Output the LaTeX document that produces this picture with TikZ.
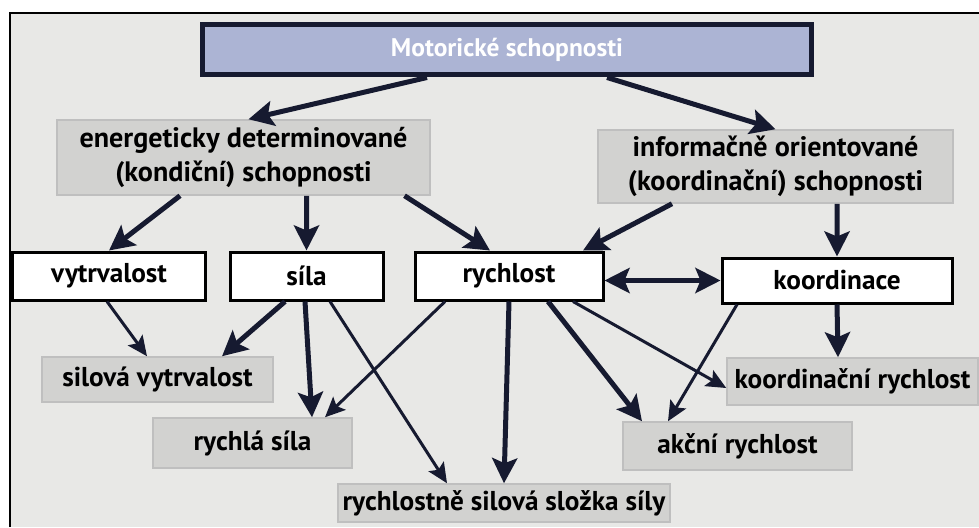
\documentclass[tikz,border=0pt]{standalone}
\usepackage{fontspec}
\setmainfont{PT Sans}
\usetikzlibrary{arrows.meta}

\definecolor{paper}{RGB}{232,232,230}
\definecolor{boxgrey}{RGB}{210,210,208}
\definecolor{topblue}{RGB}{172,180,212}
\definecolor{navy}{RGB}{22,26,48}

\tikzset{
	labelfont/.style={font=\bfseries\fontsize{15.5}{18}\selectfont},
	bigfont/.style={font=\bfseries\fontsize{16}{19.5}\selectfont},
	greybox/.style={labelfont, fill=boxgrey, draw=gray!50, line width=0.3mm, align=center, inner sep=2pt},
	whitebox/.style={labelfont, fill=white, draw=black, line width=0.6mm, minimum height=0.96cm},
	topbox/.style={font=\bfseries\fontsize{14.5}{17}\selectfont, text=white, fill=topblue, draw=navy, line width=1mm},
	bigarrow/.style={draw=navy, line width=1mm, -{Stealth[length=5mm,width=5mm,inset=1mm]}},
	smallarrow/.style={draw=navy, line width=0.6mm, -{Stealth[length=4mm,width=3.6mm,inset=0.8mm]}},
	bothway/.style={draw=navy, line width=1mm, {Stealth[length=5mm,width=5mm,inset=1mm]}-{Stealth[length=5mm,width=5mm,inset=1mm]}},
}

\begin{document}
\begin{tikzpicture}
	\useasboundingbox (0,0) rectangle (19.58,-10.54);
	\fill[white] (0,0) rectangle (19.58,-10.54);
	\fill[paper] (0.2,-0.26) rectangle (19.58,-10.54);
	\draw[black, line width=0.5mm] (0.2,-10.54) -- (0.2,-0.26) -- (19.58,-0.26);

	% top level
	\node[topbox, minimum width=12.18cm, minimum height=1cm] (motor) at (10.14, -1.0) {Motorické schopnosti};

	\node[greybox, bigfont, minimum width=7.46cm, minimum height=1.5cm] (energ) at (4.87, -3.15) {energeticky determinované\\(kondiční) schopnosti};
	\node[greybox, bigfont, minimum width=7.1cm, minimum height=1.46cm] (inform) at (15.51, -3.33) {informačně orientované\\(koordinační) schopnosti};

	% middle row
	\node[whitebox, minimum width=3.84cm] (vytrv) at (2.18, -5.52) {vytrvalost};
	\node[whitebox, minimum width=3.06cm] (sila) at (6.13, -5.52) {síla};
	\node[whitebox, minimum width=3.76cm] (rychl) at (10.18, -5.52) {rychlost};
	\node[whitebox, minimum width=4.6cm, minimum height=0.9cm] (koord) at (16.74, -5.61) {koordinace};

	% bottom boxes
	\node[greybox, minimum width=4.62cm, minimum height=0.9cm] (silvytr) at (3.15, -7.59) {silová vytrvalost};
	\node[greybox, minimum width=3.98cm, minimum height=1cm] (rychsila) at (5.05, -8.86) {rychlá síla};
	\node[greybox, minimum width=6.64cm, minimum height=0.76cm] (rychlsil) at (10.08, -10.06) {rychlostně silová složka síly};
	\node[greybox, minimum width=5.02cm, minimum height=0.94cm] (koordrych) at (17.05, -7.63) {koordinační rychlost};
	\node[greybox, minimum width=4.58cm, minimum height=0.96cm] (akcni) at (14.75, -8.92) {akční rychlost};

	% Draw the arrows between the boxes
	\draw[bigarrow] ([xshift=-1.6cm]motor.south) -- ([xshift=0.1cm]energ.north);
	\draw[bigarrow] ([xshift=2cm]motor.south) -- (inform.north);
	\draw[bigarrow] ([xshift=-1.27cm]energ.south) -- (vytrv.north);
	\draw[bigarrow] ([xshift=1.26cm]energ.south) -- (sila.north);
	\draw[bigarrow] ([xshift=3.22cm]energ.south) -- ([xshift=-0.38cm]rychl.north);
	\draw[bigarrow] ([xshift=-2.07cm]inform.south) -- ([xshift=1.48cm]rychl.north);
	\draw[bigarrow] ([xshift=1.23cm]inform.south) -- (koord.north);
	\draw[bothway] ([yshift=-0.09cm]rychl.east) -- (koord.west);

	\draw[smallarrow] ([xshift=-0.04cm]vytrv.south) -- ([xshift=-0.21cm]silvytr.north);
	\draw[bigarrow] ([xshift=-0.43cm]sila.south) -- ([xshift=1.29cm]silvytr.north);
	\draw[bigarrow] ([xshift=-0.03cm]sila.south) -- ([xshift=1.19cm]rychsila.north);
	\draw[smallarrow] ([xshift=0.47cm]sila.south) -- ([xshift=-1.14cm]rychlsil.north);
	\draw[smallarrow] ([xshift=-1.28cm]rychl.south) -- ([xshift=1.45cm]rychsila.north);
	\draw[bigarrow] (rychl.south) -- (rychlsil.north);
	\draw[bigarrow] ([xshift=0.78cm]rychl.south) -- ([xshift=-1.91cm]akcni.north);
	\draw[smallarrow] ([xshift=1.28cm]rychl.south) -- ([yshift=-0.13cm]koordrych.west);
	\draw[smallarrow] ([xshift=-2cm]koord.south) -- ([xshift=-1.39cm]akcni.north);
	\draw[bigarrow] (koord.south) -- ([xshift=-0.29cm]koordrych.north);
\end{tikzpicture}
\end{document}
